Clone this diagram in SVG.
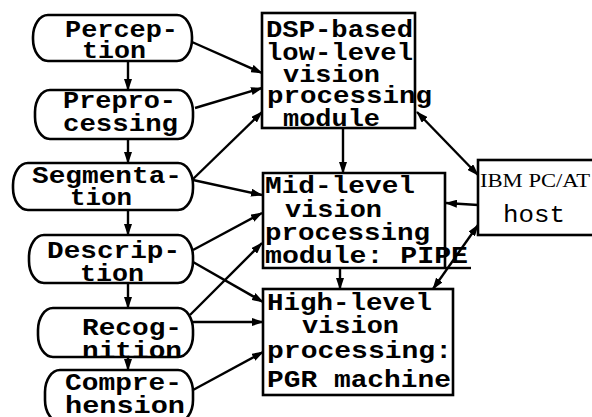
<svg xmlns="http://www.w3.org/2000/svg" width="592" height="417" viewBox="0 0 592 417">
<defs>
<marker id="ah" markerUnits="userSpaceOnUse" markerWidth="12" markerHeight="8" refX="11" refY="4" orient="auto-start-reverse"><path d="M0,0 L12,4 L0,8 z" fill="#000"/></marker>
<style>
.pill,.box{fill:#fff;stroke:#000;stroke-width:2.6}
.t{font-family:"Liberation Mono","DejaVu Sans Mono",monospace;font-size:24px;font-weight:bold;fill:#000}
.s{font-family:"Liberation Serif","Times New Roman",serif;font-size:19px;fill:#000}
.c{fill:none;stroke:#000;stroke-width:2.4}
.e{marker-end:url(#ah)}
.b{marker-start:url(#ah);marker-end:url(#ah)}
</style>
</defs>
<rect width="592" height="417" fill="#fff"/>
<g id="connectors">
<path class="c e" d="M128,61 V90"/>
<path class="c e" d="M128,139 V163"/>
<path class="c e" d="M128,210 V235"/>
<path class="c e" d="M128,283 V308"/>
<path class="c e" d="M128,357 V370"/>
<path class="c e" d="M192,42 L262,73"/>
<path class="c e" d="M195,108 L262,88"/>
<path class="c e" d="M192,180 L262,112"/>
<path class="c e" d="M193,180 L262,195"/>
<path class="c e" d="M193,250 L262,213"/>
<path class="c e" d="M193,262 L263,302"/>
<path class="c e" d="M190,315 L262,243"/>
<path class="c e" d="M193,322 L263,322"/>
<path class="c e" d="M193,390 L263,352"/>
<path class="c e" d="M343,128 V173"/>
<path class="c e" d="M340,268 V289"/>
<path class="c b" d="M417,112 L478,175"/>
<path class="c e" d="M478,205 L446,203"/>
<path class="c b" d="M478,225 L433,289"/>
</g>
<g id="perception"><rect class="pill" x="33" y="15" width="159" height="46" rx="15" ry="22"/><text class="t" x="65" y="37" textLength="113" lengthAdjust="spacingAndGlyphs">Percep-</text><text class="t" x="82" y="58" textLength="64" lengthAdjust="spacingAndGlyphs">tion</text></g>
<g id="preprocessing"><rect class="pill" x="35" y="90" width="158" height="49" rx="15" ry="22"/><text class="t" x="63" y="108" textLength="113" lengthAdjust="spacingAndGlyphs">Prepro-</text><text class="t" x="63" y="131" textLength="115" lengthAdjust="spacingAndGlyphs">cessing</text></g>
<g id="segmentation"><rect class="pill" x="13" y="163" width="180" height="47" rx="15" ry="22"/><text class="t" x="32" y="183" textLength="150" lengthAdjust="spacingAndGlyphs">Segmenta-</text><text class="t" x="70" y="205" textLength="62" lengthAdjust="spacingAndGlyphs">tion</text></g>
<g id="description"><rect class="pill" x="29" y="235" width="164" height="48" rx="15" ry="22"/><text class="t" x="47" y="258" textLength="133" lengthAdjust="spacingAndGlyphs">Descrip-</text><text class="t" x="80" y="281" textLength="64" lengthAdjust="spacingAndGlyphs">tion</text></g>
<g id="recognition"><rect class="pill" x="38" y="308" width="155" height="49" rx="15" ry="22"/><text class="t" x="82" y="335" textLength="100" lengthAdjust="spacingAndGlyphs">Recog-</text><text class="t" x="82" y="358" textLength="100" lengthAdjust="spacingAndGlyphs">nition</text></g>
<g id="comprehension"><rect class="pill" x="45" y="370" width="148" height="52" rx="15" ry="22"/><text class="t" x="65" y="390" textLength="117" lengthAdjust="spacingAndGlyphs">Compre-</text><text class="t" x="65" y="413" textLength="120" lengthAdjust="spacingAndGlyphs">hension</text></g>
<g id="dsp"><rect class="box" x="262" y="13" width="153" height="115"/><text class="t" x="266" y="37" textLength="147" lengthAdjust="spacingAndGlyphs">DSP-based</text><text class="t" x="266" y="60" textLength="147" lengthAdjust="spacingAndGlyphs">low-level</text><text class="t" x="283" y="82" textLength="97" lengthAdjust="spacingAndGlyphs">vision</text><text class="t" x="267" y="103" textLength="165" lengthAdjust="spacingAndGlyphs">processing</text><text class="t" x="283" y="126" textLength="97" lengthAdjust="spacingAndGlyphs">module</text></g>
<g id="mid"><path class="box" d="M263,173 H445 V268 H263 Z"/><path class="c" d="M445,268 H471"/><text class="t" x="265" y="193" textLength="150" lengthAdjust="spacingAndGlyphs">Mid-level</text><text class="t" x="285" y="217" textLength="97" lengthAdjust="spacingAndGlyphs">vision</text><text class="t" x="265" y="240" textLength="165" lengthAdjust="spacingAndGlyphs">processing</text><text class="t" x="265" y="263" textLength="203" lengthAdjust="spacingAndGlyphs">module: PIPE</text></g>
<g id="high"><rect class="box" x="263" y="289" width="190" height="106"/><text class="t" x="267" y="310" textLength="165" lengthAdjust="spacingAndGlyphs">High-level</text><text class="t" x="302" y="333" textLength="97" lengthAdjust="spacingAndGlyphs">vision</text><text class="t" x="267" y="358" textLength="185" lengthAdjust="spacingAndGlyphs">processing:</text><text class="t" x="267" y="387" textLength="184" lengthAdjust="spacingAndGlyphs">PGR machine</text></g>
<g id="ibm"><rect class="box" x="478" y="160" width="130" height="75"/><text class="s" x="480" y="187" textLength="110" lengthAdjust="spacingAndGlyphs">IBM PC/AT</text><text class="t" x="503" y="222" textLength="62" lengthAdjust="spacingAndGlyphs" style="font-weight:normal">host</text></g>
</svg>
